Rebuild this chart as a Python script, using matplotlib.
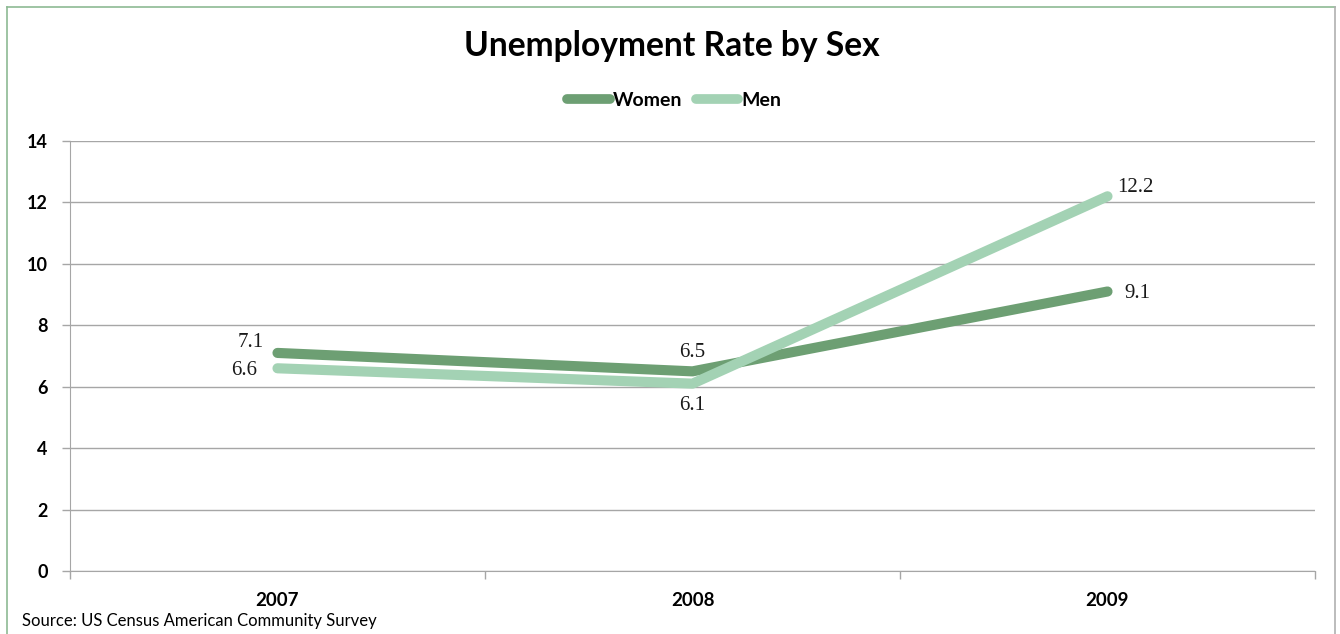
import numpy as np
import matplotlib.pyplot as plt
from matplotlib.lines import Line2D

years = ["2007", "2008", "2009"]
women = [7.1, 6.5, 9.1]
men = [6.6, 6.1, 12.2]
y_ticks = [0, 2, 4, 6, 8, 10, 12, 14]

WOMEN_COLOR = "#6d9f73"
MEN_COLOR = "#a3d2b4"
GRID_COLOR = "#a6a6a6"

plt.rcParams["font.family"] = ["Lato", "DejaVu Sans"]

fig = plt.figure(figsize=(13.4, 6.34), dpi=100)
ax = fig.add_axes([70 / 1340, 1 - 571 / 634, 1245 / 1340, 430 / 634])

x = np.arange(len(years))
ax.plot(x, women, color=WOMEN_COLOR, lw=7.3, solid_capstyle="round",
        solid_joinstyle="round", zorder=3, label="Women")
ax.plot(x, men, color=MEN_COLOR, lw=7.3, solid_capstyle="round",
        solid_joinstyle="round", zorder=4, label="Men")

ax.set_xlim(-0.5, 2.5)
ax.set_ylim(0, 14)
ax.set_yticks(y_ticks)
ax.set_yticklabels([str(t) for t in y_ticks], fontsize=13, fontweight="bold")
ax.set_xticks(x)
ax.set_xticklabels(years, fontsize=13.5, fontweight="bold")
ax.tick_params(axis="x", length=0, pad=15)
ax.set_xticks([-0.5, 0.5, 1.5, 2.5], minor=True)
ax.tick_params(axis="x", which="minor", length=6, color=GRID_COLOR, width=1)
ax.tick_params(axis="y", length=6, color=GRID_COLOR, width=1, pad=10)

ax.grid(axis="y", color=GRID_COLOR, lw=1)
ax.set_axisbelow(True)
for side in ["top", "right"]:
    ax.spines[side].set_visible(False)
for side in ["left", "bottom"]:
    ax.spines[side].set_color(GRID_COLOR)

# data labels
lbl = dict(fontsize=15, family="Liberation Serif", color="#1a1a1a", zorder=5)
offs_w = [(-0.032, 0.33, "right"), (0, 0.6, "center"), (0.04, -0.05, "left")]
offs_m = [(-0.048, -0.06, "right"), (0, -0.72, "center"), (0.024, 0.3, "left")]
for i, v in enumerate(women):
    dx, dy, ha = offs_w[i]
    ax.text(x[i] + dx, v + dy, f"{v:.1f}", ha=ha, va="center", **lbl)
for i, v in enumerate(men):
    dx, dy, ha = offs_m[i]
    ax.text(x[i] + dx, v + dy, f"{v:.1f}", ha=ha, va="center", **lbl)

fig.text(0.5015, 1 - 46 / 634, "Unemployment Rate by Sex", ha="center",
         va="center", fontsize=24.2, fontweight="bold")

handles = [Line2D([], [], color=WOMEN_COLOR, lw=7, solid_capstyle="round"),
           Line2D([], [], color=MEN_COLOR, lw=7, solid_capstyle="round")]
fig.legend(handles, ["Women", "Men"], loc="center", bbox_to_anchor=(0.503, 1 - 100 / 634),
           ncol=2, frameon=False, handlelength=2.2, handletextpad=0.15, columnspacing=0.7,
           prop={"size": 14, "weight": "bold"})

fig.text(22 / 1340, 1 - 621 / 634, "Source: US Census American Community Survey",
         ha="left", va="center", fontsize=12)

# chart border
fig.add_artist(Line2D([7 / 1340, 7 / 1340], [0, 1 - 7 / 634], color="#8dba94", lw=1.2))
fig.add_artist(Line2D([7 / 1340, 1335 / 1340], [1 - 7 / 634, 1 - 7 / 634], color="#8dba94", lw=1.2))
fig.add_artist(Line2D([1335 / 1340, 1335 / 1340], [0, 1 - 7 / 634], color="#b0b0b0", lw=1.2))

fig.savefig("out.png", dpi=100)
